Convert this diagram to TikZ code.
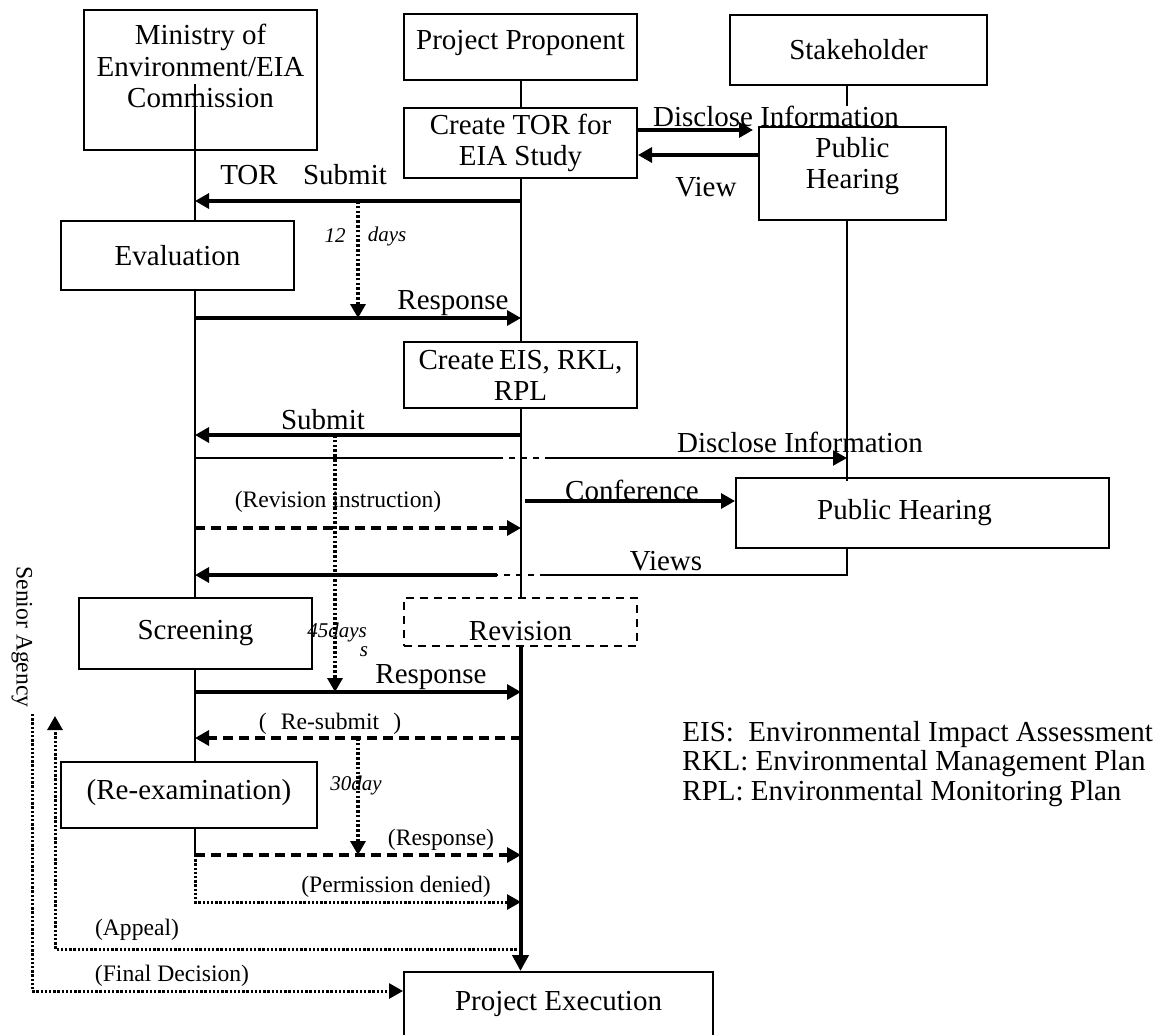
\documentclass[tikz,border=0pt]{standalone}
\usepackage{fontspec}
\setmainfont{Liberation Serif}
\usepackage{tikz}
\usetikzlibrary{arrows.meta, positioning, calc}
\newcommand{\mainsz}{\fontsize{14.5}{15.5}\selectfont}
\newcommand{\lblsz}{\fontsize{11.8}{13}\selectfont}
\newcommand{\daysz}{\fontsize{10.5}{12}\selectfont\itshape}

\begin{document}
\begin{tikzpicture}[x=0.5pt, y=-0.5pt,
  box/.style={draw, line width=1pt, font=\mainsz, align=center, inner sep=0pt},
  dbox/.style={box, dash pattern=on 4pt off 3pt},
  lane/.style={line width=1pt},
  tip/.style={-{Triangle[length=7pt, width=7.5pt]}},
  msg/.style={line width=1.6pt, tip},
  dmsg/.style={msg, dash pattern=on 5pt off 3pt},
  dotv/.style={line width=1.7pt, dash pattern=on 1.3pt off 1.1pt, tip},
  dotl/.style={line width=1.5pt, dash pattern=on 1.2pt off 0.9pt},
  lbl/.style={font=\mainsz, inner sep=0pt},
  slbl/.style={font=\lblsz, inner sep=0pt},
  days/.style={font=\daysz, inner sep=0pt},
]
  \useasboundingbox (0,0) rectangle (1167,1034);

  % Actors
  \node[box, minimum width=116.5pt, minimum height=70pt] (min) at (200.5,80) {};
  \node[lbl, align=center, font=\fontsize{14.5}{15.7}\selectfont] (mintxt) at (200.5,66) {Ministry of\\Environment/EIA\\Commission};
  \node[box, minimum width=116.5pt, minimum height=33pt, text depth=7pt] (pp) at (520.5,47) {Project Proponent};
  \node[box, minimum width=128.5pt, minimum height=35pt] (stk) at (858.5,50) {Stakeholder};

  % Steps
  \node[box, minimum width=116.5pt, minimum height=35pt] (tor) at (520.5,143) {Create TOR for\\EIA Study};
  \node[box, minimum width=93.5pt, minimum height=46.5pt] (ph1) at (852.5,173.5) {};
  \node[lbl, align=center] (ph1txt) at (852.5,166) {Public\\Hearing};
  \node[box, minimum width=116.5pt, minimum height=34.5pt] (eval) at (177.5,255.5) {Evaluation};
  \node[box, minimum width=116.5pt, minimum height=33pt] (eis) at (520.5,375) {Create\,EIS, RKL,\\RPL};
  \node[box, minimum width=186.5pt, minimum height=35pt] (ph2) at (922.5,513) {Public Hearing\hspace*{18pt}};
  \node[box, minimum width=116.5pt, minimum height=35.5pt] (scr) at (195.5,633.5) {Screening};
  \node[dbox, minimum width=116.5pt, minimum height=24pt, text height=18pt, text depth=0pt] (rev) at (520.5,622) {Revision};
  \node[box, minimum width=128pt, minimum height=33pt, text depth=6pt] (rex) at (189,795) {(Re-examination)};
  \node[box, minimum width=154.5pt, minimum height=32pt] (pe) at (558.5,1004) {Project Execution};

  % Lifelines
  \coordinate (mx) at (195,84);
  \coordinate (sx) at (847,85);
  \foreach \r/\y in {tor/201, rs1/318, sb2/435, dis/458, rvi/528, vw/575, rs2/692, rsb/738, rs3/855, dny/902, apl/949} {
    \coordinate (m-\r) at (195,\y);
    \coordinate (p-\r) at (521,\y);
  }
  \draw[lane] (mx) -- (mx |- eval.north);
  \draw[lane] (mx |- eval.south) -- (mx |- scr.north);
  \draw[lane] (mx |- scr.south) -- (mx |- rex.north);
  \draw[lane] (mx |- rex.south) -- (m-rs3);
  \draw[lane] (pp.south) -- (tor.north);
  \draw[lane] (tor.south) -- (eis.north);
  \draw[lane] (eis.south) -- (rev.north);
  \draw[lane] (sx) -- (sx |- ph1.north);
  \draw[lane] (sx |- ph1.south) -- ([yshift=-2pt]sx |- ph2.north);

  % Labels
  \node[lbl, fill=white] (disc1) at (776,116) {Disclose Information};
  \node[lbl] (view) at (706,187) {View};
  \node[lbl] (torl) at (249,175) {TOR};
  \node[lbl] (sub1) at (345,175) {Submit};
  \node[days] (d12a) at (335,236) {12};
  \node[days] (d12b) at (387,236) {days};
  \node[lbl] (res1) at (453,303) {Response};
  \node[lbl] (sub2) at (323,420) {Submit};
  \node[lbl] (disc2) at (800,442) {Disclose Information};
  \node[lbl] (conf) at (632,490) {Conference};
  \node[slbl] (revi) at (338,502) {(Revision instruction)};
  \node[lbl] (views) at (666,561) {Views};
  \node[days] (d45a) at (337,632) {45days};
  \node[days] (d45b) at (364,652) {s};
  \node[lbl] (res2) at (431,677) {Response};
  \node[slbl] (resub) at (330,724) {(\hspace{0.6em}Re-submit\hspace{0.6em})};
  \node[days] (d30) at (356,785) {30day};
  \node[slbl] (res3) at (441,840) {(Response)};
  \node[slbl] (deny) at (396,887) {(Permission denied)};
  \node[slbl] (apl) at (137,930) {(Appeal)};
  \node[slbl] (fin) at (172,976) {(Final Decision)};
  \node[slbl, rotate=-90] (senior) at (22,637) {Senior Agency};
  \node[lbl, anchor=west, align=left, font=\fontsize{14.5}{14.8}\selectfont] (legend) at (682,764)
    {EIS:\ \ Environmental Impact Assessment\\RKL: Environmental Management Plan\\RPL: Environmental Monitoring Plan};

  % TOR stage
  \coordinate (tdi) at ([yshift=6.5pt]tor.east);
  \coordinate (tvw) at ([yshift=-6pt]tor.east);
  \draw[msg] (tdi) -- ([xshift=-2.5pt]tdi -| ph1.west);
  \draw[msg] (tvw -| ph1.west) -- (tvw);
  \draw[msg] (p-tor) -- (m-tor);
  \coordinate (q1) at (358,201);
  \draw[dotv] (q1) -- (q1 |- m-rs1);
  \draw[msg] (m-rs1) -- (p-rs1);

  % EIS stage
  \draw[msg] (p-sb2) -- (m-sb2);
  \draw[lane] (m-dis) -- ($(p-dis)+(-24,0)$);
  \draw[lane, dashed] ($(p-dis)+(-24,0)$) -- ($(p-dis)+(25,0)$);
  \draw[lane, tip] ($(p-dis)+(25,0)$) -- (sx |- m-dis);
  \coordinate (cnf) at (525,501);
  \draw[msg] (cnf) -- (ph2.west |- cnf);
  \draw[dmsg] (m-rvi) -- (p-rvi);
  \draw[lane] (sx |- ph2.south) -- (sx |- m-vw) -- ($(p-vw)+(25,0)$);
  \draw[lane, dashed] ($(p-vw)+(25,0)$) -- ($(p-vw)+(-24,0)$);
  \draw[msg] ($(p-vw)+(-24,0)$) -- (m-vw);
  \coordinate (q2) at (335,435);
  \draw[dotv] (q2) -- (q2 |- m-rs2);
  \draw[msg] (m-rs2) -- (p-rs2);

  % Re-submit and appeal
  \draw[dmsg] (p-rsb) -- (m-rsb);
  \coordinate (q3) at (358,738);
  \draw[dotv] (q3) -- (q3 |- m-rs3);
  \draw[dmsg] (m-rs3) -- (p-rs3);
  \draw[dotl, tip] (m-rs3) -- (m-dny) -- (p-dny);
  \coordinate (ap) at (55,716);
  \draw[dotl, tip] (p-apl) -- (ap |- p-apl) -- (ap);
  \coordinate (fd) at (32,714);
  \coordinate (fdb) at (32,991);
  \draw[dotl, tip] (fd) -- (fdb) -- (pe.west |- fdb);
  \draw[line width=2pt, -{Triangle[length=8pt, width=8pt]}] (rev.south) -- (rev.south |- pe.north);
\end{tikzpicture}
\end{document}
